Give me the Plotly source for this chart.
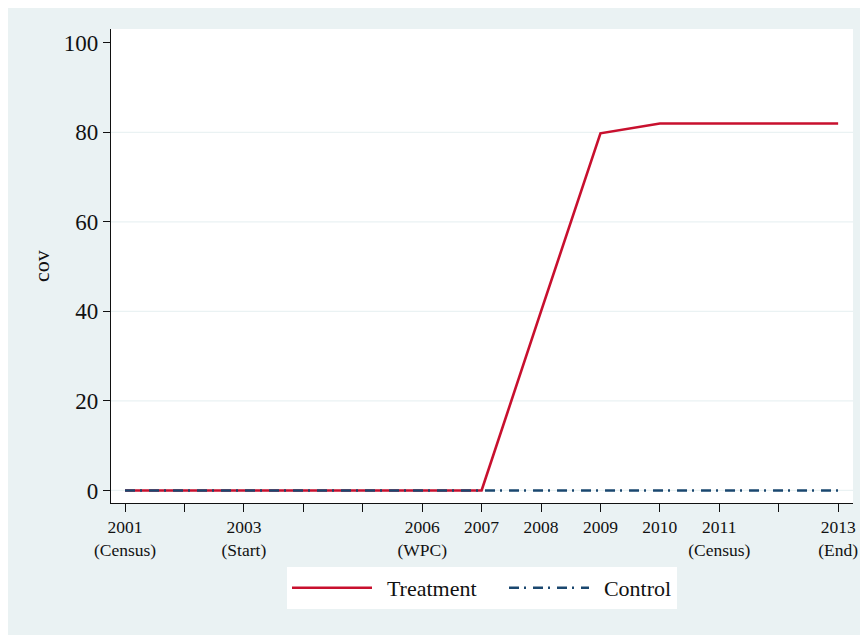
import plotly.graph_objects as go

years = [2001, 2002, 2003, 2004, 2005, 2006, 2007, 2008, 2009, 2010, 2011, 2012, 2013]
treatment = [0, 0, 0, 0, 0, 0, 0, 40, 79.8, 82, 82, 82, 82]
control = [0, 0, 0, 0, 0, 0, 0, 0, 0, 0, 0, 0, 0]
tick_years = [2001, 2002, 2003, 2004, 2005, 2006, 2007, 2008, 2009, 2010, 2011, 2012, 2013]
tick_text = ["2001<br>(Census)", "", "2003<br>(Start)", "", "", "2006<br>(WPC)", "2007",
             "2008", "2009", "2010", "2011<br>(Census)", "", "2013<br>(End)"]
y_ticks = [0, 20, 40, 60, 80, 100]
grid_vals = [0, 20, 40, 60, 80]

BG = "#eaf2f3"
FONT = "Liberation Serif"
PAD = "\u00a0\u2009"

fig = go.Figure()
fig.add_trace(go.Scatter(x=years, y=treatment, mode="lines", name=PAD + "Treatment",
                         legendwidth=122,
                         line=dict(color="#c8102e", width=2.6)))
fig.add_trace(go.Scatter(x=years, y=control, mode="lines", name=PAD + "Control",
                         line=dict(color="#1a476f", width=2.6, dash="10px,5px,2px,7px")))

for g in grid_vals:
    fig.add_hline(y=g, line=dict(color=BG, width=1.2), layer="below")

W, H = 876, 643

fig.update_layout(
    width=W, height=H,
    margin=dict(l=103, r=31, t=21, b=148),
    paper_bgcolor=BG, plot_bgcolor="white",
    font=dict(family=FONT, color="#111111", size=22),
    showlegend=True,
    legend=dict(orientation="h", x=0.5, xanchor="center", y=-0.135, yanchor="top",
                bgcolor="white", borderwidth=0, font=dict(size=22, family=FONT),
                itemwidth=80, tracegroupgap=0),
    xaxis=dict(range=[2000.764, 2013.25], tickmode="array", tickvals=tick_years,
               ticktext=tick_text, ticks="outside", ticklen=8, tickwidth=1.3,
               tickcolor="#111111", showline=True, linecolor="#111111", linewidth=1.3,
               showgrid=False, zeroline=False, tickangle=0,
               tickfont=dict(size=17.5, family=FONT)),
    yaxis=dict(range=[-2.8, 103.1], tickmode="array", tickvals=y_ticks,
               ticks="outside", ticklen=7, tickwidth=1.3, tickcolor="#111111",
               showline=True, linecolor="#111111", linewidth=1.3,
               showgrid=False, zeroline=False,
               tickfont=dict(size=23, family=FONT),
               title=dict(text="cov", font=dict(size=22, family=FONT), standoff=8)),
)

fig.write_html("out.html", post_script="document.body.style.overflow='hidden';")
